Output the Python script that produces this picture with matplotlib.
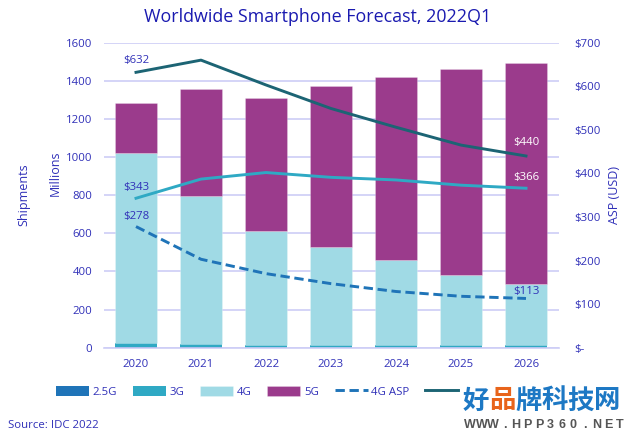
import matplotlib
matplotlib.use('Agg')
import matplotlib.pyplot as plt
from matplotlib.patches import Rectangle
from matplotlib.ticker import FuncFormatter
import numpy as np

plt.rcParams['font.family'] = ['Open Sans', 'DejaVu Sans']

years = ['2020', '2021', '2022', '2023', '2024', '2025', '2026']

# shipments, millions
ship_25g = [3, 2, 1, 1, 1, 1, 1]
ship_3g = [22, 17, 15, 13, 11, 11, 11]
ship_4g = [996, 778, 596, 516, 448, 369, 324]
ship_5g = [263, 559, 698, 845, 960, 1081, 1158]

# ASP, USD
asp_4g = [278, 203, 170, 147, 129, 118, 113]
asp_5g = [343, 387, 402, 391, 385, 373, 366]
asp_all = [632, 660, 603, 549, 506, 465, 440]

left_ticks = [0, 200, 400, 600, 800, 1000, 1200, 1400, 1600]
right_ticks = [0, 100, 200, 300, 400, 500, 600, 700]

TEXT = '#3030b8'
GRID = '#cdcdf6'
C_25G = '#1f74b8'
C_3G = '#2fa9c4'
C_4G = '#a0dae5'
C_5G = '#9b3b8c'
C_DARK = '#1c6474'

W, H = 630, 438
fig = plt.figure(figsize=(W / 100, H / 100), dpi=100)
ax = fig.add_axes([103.5 / W, (H - 347.7) / H, 455 / W, 305 / H])
x = np.arange(len(years))

bottom = np.zeros(len(years))
for vals, col, lab, edge in [(ship_25g, C_25G, '2.5G', 0), (ship_3g, C_3G, '3G', 0),
                             (ship_4g, C_4G, '4G', 0.5), (ship_5g, C_5G, '5G', 0.5)]:
    ax.bar(x, vals, 0.645, bottom=bottom, color=col, label=lab, zorder=3,
           edgecolor='#ffffff55', linewidth=edge)
    bottom += np.array(vals)

ax.set_xlim(-0.5, 6.5)
ax.set_ylim(0, 1600)
ax.set_xticks(x, years)
ax.set_yticks(left_ticks)
ax.grid(axis='y', color=GRID, linewidth=1.2, zorder=0)
ax.set_axisbelow(True)
ax.tick_params(length=0, colors=TEXT, labelsize=8.2)
ax.tick_params(axis='x', pad=8)
ax.tick_params(axis='y', pad=8)
for s in ax.spines.values():
    s.set_visible(False)
ax.spines['bottom'].set_visible(True)
ax.spines['bottom'].set_color(GRID)
ax.spines['bottom'].set_linewidth(1.2)
ax.spines['bottom'].set_zorder(5)

ax2 = ax.twinx()
ax2.set_ylim(0, 700)
ax2.set_yticks(right_ticks)
ax2.yaxis.set_major_formatter(FuncFormatter(lambda v, p: '$-' if v == 0 else f'${v:.0f}'))
ax2.tick_params(length=0, colors=TEXT, labelsize=8.2, pad=11.5)
for s in ax2.spines.values():
    s.set_visible(False)

l1, = ax2.plot(x, asp_4g, color=C_25G, lw=2.1, ls=(0, (3.2, 1.6)))
l2, = ax2.plot(x, asp_5g, color=C_3G, lw=2.1)
l3, = ax2.plot(x, asp_all, color=C_DARK, lw=2.1)

for vals, i, dy, col in [(asp_all, 0, 8.6, TEXT), (asp_5g, 0, 8, TEXT), (asp_4g, 0, 7,  TEXT),
                         (asp_all, 6, 10, 'white'), (asp_5g, 6, 8, 'white'), (asp_4g, 6, 5, TEXT)]:
    ax2.annotate(f'${vals[i]}', (x[i], vals[i]), xytext=(0, dy), textcoords='offset points',
                 ha='center', va='center', color=col, fontsize=8.2, zorder=6)

fig.text(318 / W, 1 - 16.5 / H, 'Worldwide Smartphone Forecast, 2022Q1', color='#1a1ab0',
         fontsize=12.9, ha='center', va='center')
fig.text(24 / W, 1 - 195 / H, 'Shipments', color=TEXT, fontsize=9, rotation=90, ha='center', va='center')
fig.text(55 / W, 1 - 173 / H, 'Millions', color=TEXT, fontsize=9, rotation=90, ha='center', va='center')
fig.text(615 / W, 1 - 195 / H, 'ASP (USD)', color=TEXT, fontsize=9, rotation=90, ha='center', va='center')
fig.text(8 / W, 1 - 425 / H, 'Source: IDC 2022', color=TEXT, fontsize=8.2, ha='left', va='center')

# last legend label is hidden by the watermark in the source, so it stays empty
handles, labels = ax.get_legend_handles_labels()
fig.legend(handles + [l1, l3], labels + ['4G ASP', ''], ncol=6, loc='center left',
           bbox_to_anchor=(56 / W, 1 - 392 / H), frameon=False, fontsize=8.2, labelcolor=TEXT,
           handlelength=2.9, handleheight=0.95, handletextpad=0.3, columnspacing=1.4, borderpad=0,
           borderaxespad=0)

# site watermark over the end of the legend
fig.add_artist(Rectangle((460 / W, 0), 170 / W, (H - 382) / H, transform=fig.transFigure,
                         facecolor='white', edgecolor='none', zorder=6))
cjk = ['Noto Sans CJK SC', 'DejaVu Sans']
for i, ch in enumerate('好品牌科技网'):
    fig.text((476 + i * 26.2) / W, 1 - 401 / H, ch, family=cjk, fontsize=19, fontweight='bold',
             color='#e8641b' if ch == '品' else '#1d78c4', ha='center', va='center', zorder=7)
for i, ch in enumerate('WWW.HPP360.NET'):
    fig.text((470 + i * 11.5) / W, 1 - 425 / H, ch, family=['Liberation Sans'], fontsize=9, fontweight='bold',
             color='#555555', ha='center', va='center', zorder=7)

fig.savefig('out.png', dpi=100)
plt.close(fig)
